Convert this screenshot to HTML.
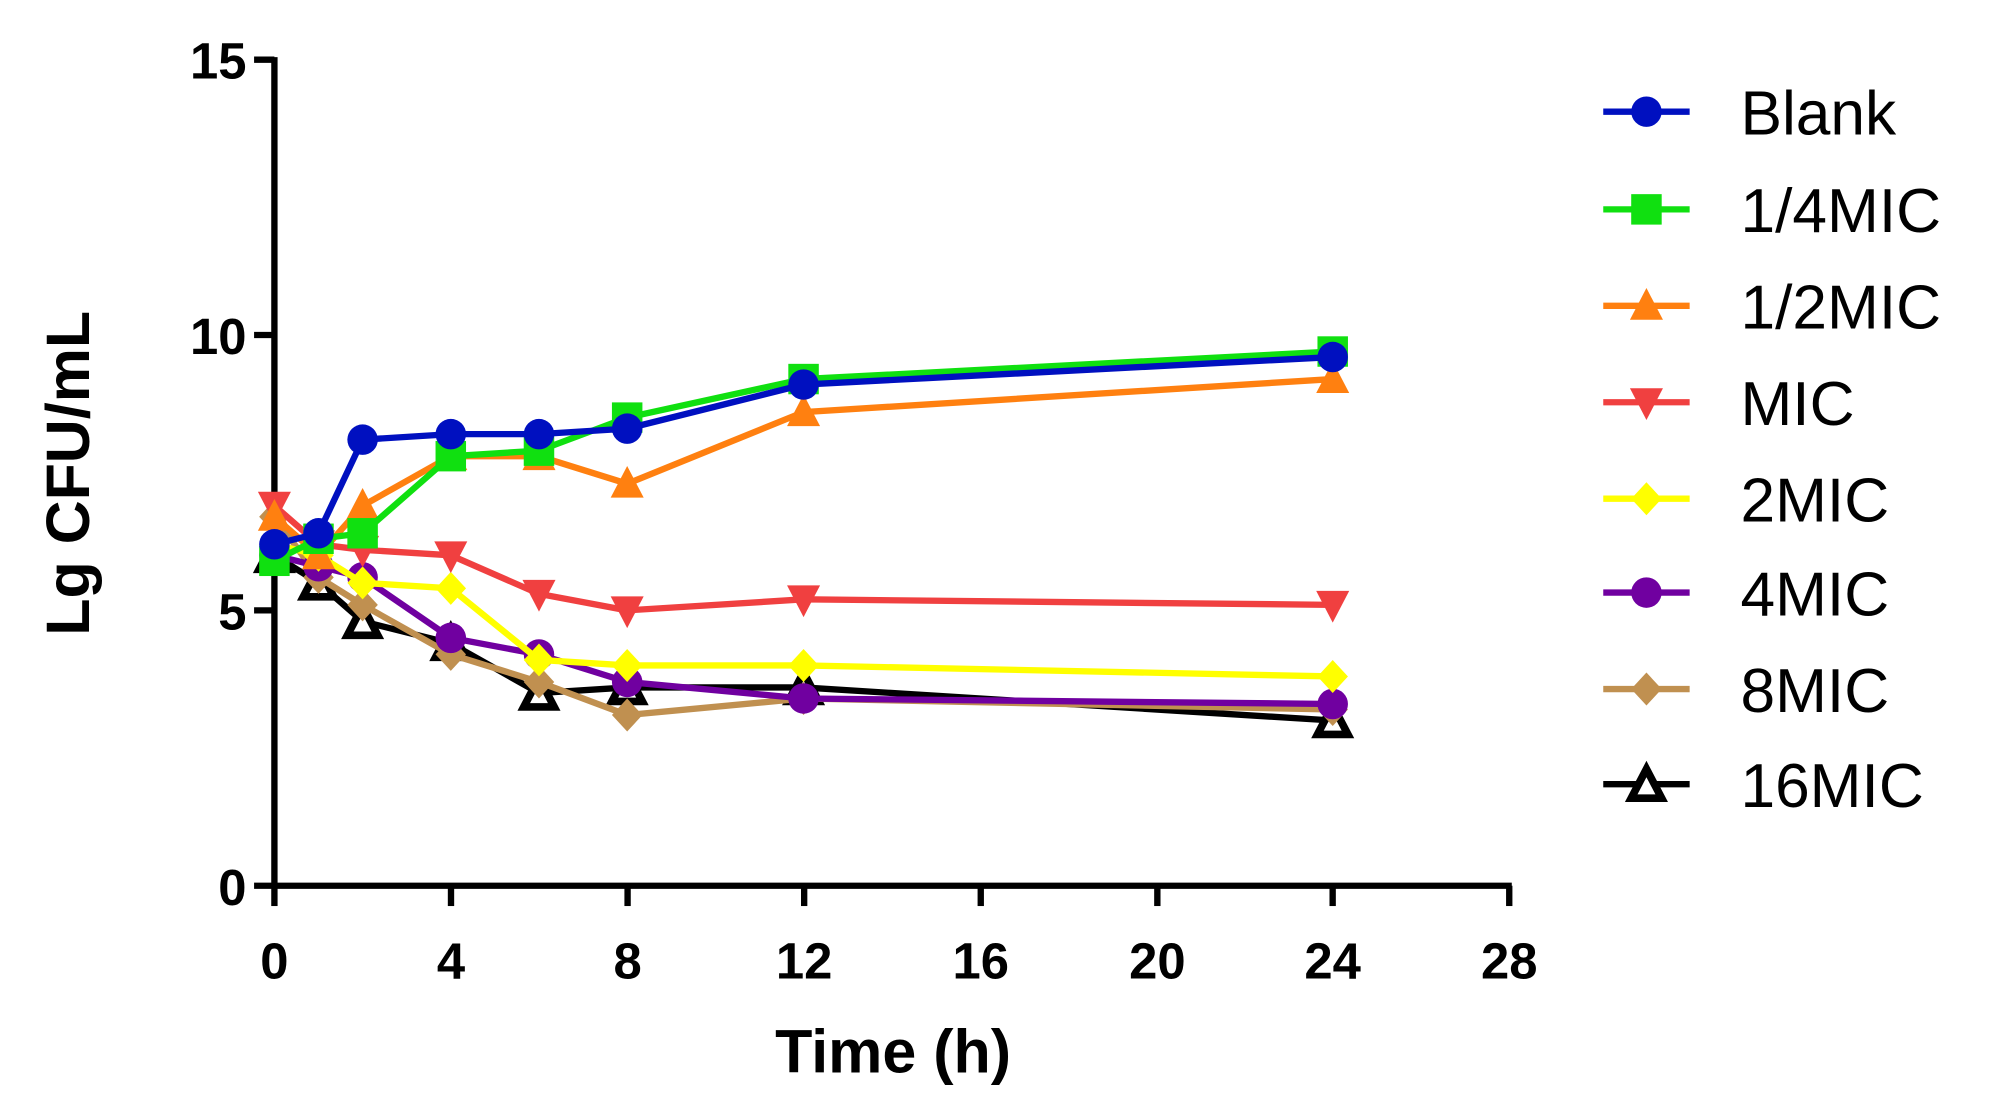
<!DOCTYPE html>
<html><head><meta charset="utf-8"><style>
html,body{margin:0;padding:0;background:#fff;}
svg{display:block;}
text{font-family:"Liberation Sans",Arial,sans-serif;}
</style></head><body>
<svg id="s" width="1992" height="1104" viewBox="0 0 1568 870" preserveAspectRatio="none" xmlns="http://www.w3.org/2000/svg">
<rect width="1568" height="870" fill="#fff"/>
<g stroke="#000" stroke-width="5" fill="none">
<line x1="216" y1="45" x2="216" y2="700"/>
<line x1="214" y1="698" x2="1190" y2="698"/>
<line x1="200" y1="47" x2="216" y2="47"/>
<line x1="200" y1="264" x2="216" y2="264"/>
<line x1="200" y1="481" x2="216" y2="481"/>
<line x1="200" y1="698" x2="216" y2="698"/>
<line x1="216" y1="698" x2="216" y2="714"/>
<line x1="355" y1="698" x2="355" y2="714"/>
<line x1="494" y1="698" x2="494" y2="714"/>
<line x1="633" y1="698" x2="633" y2="714"/>
<line x1="772" y1="698" x2="772" y2="714"/>
<line x1="911" y1="698" x2="911" y2="714"/>
<line x1="1049" y1="698" x2="1049" y2="714"/>
<line x1="1188" y1="698" x2="1188" y2="714"/>
</g>
<g font-size="40" font-weight="bold" text-anchor="end">
<text x="194" y="62">15</text><text x="194" y="279">10</text><text x="194" y="496">5</text><text x="194" y="713">0</text>
</g>
<g font-size="40" font-weight="bold" text-anchor="middle">
<text x="216" y="771">0</text><text x="355" y="771">4</text><text x="494" y="771">8</text><text x="633" y="771">12</text><text x="772" y="771">16</text><text x="911" y="771">20</text><text x="1049" y="771">24</text><text x="1188" y="771">28</text>
</g>
<text x="703" y="845" font-size="48" font-weight="bold" text-anchor="middle">Time (h)</text>
<text transform="translate(70,373) rotate(-90)" font-size="48" font-weight="bold" text-anchor="middle">Lg CFU/mL</text>
<g id="series"></g>
<g id="legend" font-size="49"></g>
</svg>
<script>
var X=function(t){return 216+t*34.71;},Y=function(v){return 698-v*43.4;};
var T=[0,1,2,4,6,8,12,24];
var S=[
["Blank","#0010c0","c",[6.2,6.4,8.1,8.2,8.2,8.3,9.1,9.6]],
["1/4MIC","#10e010","s",[5.9,6.3,6.4,7.8,7.9,8.5,9.2,9.7]],
["1/2MIC","#ff8010","t",[6.7,6.0,6.9,7.8,7.8,7.3,8.6,9.2]],
["MIC","#f04040","v",[6.9,6.2,6.1,6.0,5.3,5.0,5.2,5.1]],
["2MIC","#ffff00","d",[6.2,6.0,5.5,5.4,4.1,4.0,4.0,3.8]],
["4MIC","#7000a0","c",[6.0,5.8,5.6,4.5,4.2,3.7,3.4,3.3]],
["8MIC","#c09050","d",[6.7,5.6,5.1,4.2,3.7,3.1,3.4,3.2]],
["16MIC","#000000","o",[6.0,5.5,4.8,4.4,3.5,3.6,3.6,3.0]]
];
function mk(type,c,x,y){
 var r=12;
 if(type=="c")return '<circle cx="'+x+'" cy="'+y+'" r="'+r+'" fill="'+c+'"/>';
 if(type=="s")return '<rect x="'+(x-r)+'" y="'+(y-r)+'" width="'+2*r+'" height="'+2*r+'" fill="'+c+'"/>';
 if(type=="t")return '<polygon points="'+x+','+(y-r-2)+' '+(x+r+1)+','+(y+r-1)+' '+(x-r-1)+','+(y+r-1)+'" fill="'+c+'"/>';
 if(type=="v")return '<polygon points="'+x+','+(y+r+2)+' '+(x+r+1)+','+(y-r+1)+' '+(x-r-1)+','+(y-r+1)+'" fill="'+c+'"/>';
 if(type=="d")return '<polygon points="'+x+','+(y-r-1)+' '+(x+r)+','+y+' '+x+','+(y+r+1)+' '+(x-r)+','+y+'" fill="'+c+'"/>';
 if(type=="o")return '<polygon points="'+x+','+(y-r)+' '+(x+r)+','+(y+r-1)+' '+(x-r)+','+(y+r-1)+'" fill="#fff" stroke="#000" stroke-width="6"/>';
}
var h='';
for(var i=S.length-1;i>=0;i--){var s=S[i];var p=T.map(function(t,j){return X(t)+','+Y(s[3][j]);}).join(' ');
 h+='<polyline points="'+p+'" fill="none" stroke="'+s[1]+'" stroke-width="5"/>';
 T.forEach(function(t,j){h+=mk(s[2],s[1],X(t),Y(s[3][j]));});}
document.getElementById('series').innerHTML=h;
var L='',ly=[88,165,241,317,393,467,543,618];
S.forEach(function(s,i){L+='<line x1="1262" y1="'+ly[i]+'" x2="1330" y2="'+ly[i]+'" stroke="'+s[1]+'" stroke-width="5"/>'+mk(s[2],s[1],1296,ly[i])+'<text x="1370" y="'+(ly[i]+18)+'">'+s[0]+'</text>';});
document.getElementById('legend').innerHTML=L;
</script>
</body></html>
